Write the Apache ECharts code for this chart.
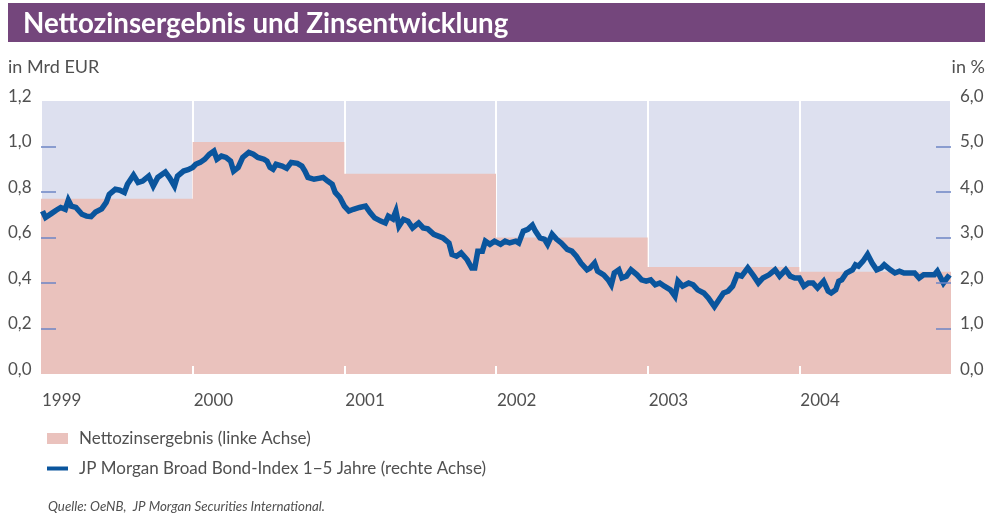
<!DOCTYPE html>
<html>
<head>
<meta charset="utf-8">
<title>Nettozinsergebnis und Zinsentwicklung</title>
<script src="https://cdn.jsdelivr.net/npm/echarts@6/dist/echarts.min.js"></script>
<style>
  html, body { margin: 0; padding: 0; background: #fff; }
  #chart { width: 998px; height: 518px; }
</style>
</head>
<body>
<div id="chart"></div>
<script>
// Nettozinsergebnis je Jahr (Mrd EUR, linke Achse)
var jahre = [1999, 2000, 2001, 2002, 2003, 2004];
var jahrLabels = ['1999', '2000', '2001', '2002', '2003', '2004'];
var nettozins = [0.77, 1.02, 0.88, 0.60, 0.47, 0.45];

// JP Morgan Broad Bond-Index 1-5 Jahre (in %, rechte Achse), Zeitpunkt als Dezimaljahr
var bondZeit = [
  1999.01, 1999.03, 1999.07, 1999.10, 1999.13, 1999.16, 1999.18, 1999.20, 1999.23, 1999.27,
  1999.30, 1999.33, 1999.36, 1999.40, 1999.43, 1999.45, 1999.49, 1999.52, 1999.55, 1999.57,
  1999.61, 1999.64, 1999.67, 1999.71, 1999.74, 1999.77, 1999.82, 1999.85, 1999.88, 1999.90,
  1999.94, 1999.97, 2000.00, 2000.02, 2000.05, 2000.08, 2000.11, 2000.14, 2000.16, 2000.19,
  2000.22, 2000.25, 2000.27, 2000.30, 2000.33, 2000.37, 2000.40, 2000.43, 2000.47, 2000.49,
  2000.51, 2000.53, 2000.55, 2000.59, 2000.62, 2000.65, 2000.69, 2000.72, 2000.74, 2000.76,
  2000.80, 2000.83, 2000.86, 2000.89, 2000.92, 2000.94, 2000.97, 2001.00, 2001.03, 2001.06,
  2001.10, 2001.14, 2001.17, 2001.20, 2001.24, 2001.27, 2001.29, 2001.32, 2001.34, 2001.36,
  2001.39, 2001.42, 2001.45, 2001.49, 2001.52, 2001.55, 2001.59, 2001.62, 2001.65, 2001.69,
  2001.71, 2001.74, 2001.77, 2001.81, 2001.84, 2001.86, 2001.88, 2001.91, 2001.93, 2001.96,
  2001.99, 2002.03, 2002.06, 2002.09, 2002.13, 2002.15, 2002.18, 2002.21, 2002.24, 2002.26,
  2002.29, 2002.32, 2002.34, 2002.37, 2002.40, 2002.43, 2002.47, 2002.50, 2002.53, 2002.56,
  2002.60, 2002.62, 2002.65, 2002.67, 2002.71, 2002.74, 2002.76, 2002.78, 2002.81, 2002.83,
  2002.86, 2002.89, 2002.93, 2002.96, 2002.99, 2003.02, 2003.05, 2003.08, 2003.11, 2003.15,
  2003.18, 2003.20, 2003.23, 2003.27, 2003.30, 2003.33, 2003.37, 2003.40, 2003.44, 2003.47,
  2003.50, 2003.53, 2003.56, 2003.59, 2003.62, 2003.66, 2003.70, 2003.73, 2003.76, 2003.80,
  2003.84, 2003.87, 2003.91, 2003.94, 2003.97, 2004.00, 2004.03, 2004.06, 2004.09, 2004.12,
  2004.16, 2004.19, 2004.21, 2004.24, 2004.26, 2004.28, 2004.31, 2004.35, 2004.37, 2004.39,
  2004.42, 2004.45, 2004.48, 2004.51, 2004.54, 2004.56, 2004.60, 2004.63, 2004.66, 2004.69,
  2004.73, 2004.76, 2004.79, 2004.82, 2004.85, 2004.89, 2004.91, 2004.95, 2004.99
];
var bondWert = [
  3.58, 3.44, 3.53, 3.60, 3.66, 3.62, 3.82, 3.69, 3.66, 3.51,
  3.47, 3.46, 3.56, 3.63, 3.77, 3.95, 4.06, 4.04, 3.99, 4.17,
  4.37, 4.21, 4.24, 4.35, 4.13, 4.32, 4.44, 4.30, 4.13, 4.35,
  4.46, 4.49, 4.54, 4.61, 4.65, 4.72, 4.83, 4.90, 4.72, 4.79,
  4.76, 4.68, 4.46, 4.54, 4.76, 4.87, 4.83, 4.76, 4.72, 4.68,
  4.54, 4.50, 4.61, 4.57, 4.52, 4.65, 4.63, 4.57, 4.46, 4.32,
  4.28, 4.30, 4.32, 4.24, 4.17, 3.99, 3.88, 3.69, 3.58, 3.62,
  3.66, 3.69, 3.55, 3.43, 3.36, 3.32, 3.47, 3.41, 3.58, 3.25,
  3.40, 3.36, 3.21, 3.32, 3.21, 3.19, 3.07, 3.03, 2.99, 2.88,
  2.63, 2.59, 2.66, 2.51, 2.33, 2.33, 2.70, 2.70, 2.92, 2.85,
  2.92, 2.85, 2.92, 2.88, 2.92, 2.88, 3.14, 3.18, 3.27, 3.14,
  2.99, 2.96, 2.85, 3.07, 2.96, 2.88, 2.74, 2.70, 2.59, 2.44,
  2.29, 2.33, 2.44, 2.26, 2.18, 2.07, 1.96, 2.22, 2.29, 2.11,
  2.15, 2.29, 2.18, 2.07, 2.04, 2.07, 1.96, 2.00, 1.93, 1.85,
  1.71, 2.04, 1.93, 2.00, 1.96, 1.85, 1.78, 1.67, 1.48, 1.63,
  1.78, 1.82, 1.93, 2.18, 2.15, 2.33, 2.15, 2.00, 2.11, 2.18,
  2.29, 2.15, 2.29, 2.15, 2.11, 2.11, 1.93, 2.00, 2.00, 1.89,
  2.04, 1.82, 1.78, 1.85, 2.04, 2.07, 2.22, 2.29, 2.40, 2.37,
  2.48, 2.63, 2.44, 2.29, 2.33, 2.40, 2.29, 2.22, 2.26, 2.22,
  2.22, 2.22, 2.11, 2.18, 2.18, 2.18, 2.26, 2.00, 2.18
];

var linksTicks = [0.2, 0.4, 0.6, 0.8, 1.0];
var rechtsTicks = [1, 2, 3, 4, 5];
var jahrTicks = [2000, 2001, 2002, 2003, 2004];

var fontName = 'Lato, "Open Sans", sans-serif';
var textGrau = '#505050';

// Stufen fuer das Nettozinsergebnis: jeder Wert gilt ein ganzes Jahr
var stufen = jahre.map(function (j, i) { return [j, nettozins[i]]; });
stufen.push([jahre[jahre.length - 1] + 1, nettozins[nettozins.length - 1]]);

var bondDaten = bondZeit.map(function (t, i) { return [t, bondWert[i]]; });

function komma(v) {
  return v.toFixed(1).replace('.', ',');
}

var chart = echarts.init(document.getElementById('chart'));

var option = {
  animation: false,
  textStyle: { fontFamily: fontName },
  title: {
    text: 'Nettozinsergebnis und Zinsentwicklung',
    left: 18,
    top: 5,
    textStyle: { color: '#fff', fontSize: 27.7, fontWeight: 'bold', fontFamily: fontName }
  },
  graphic: [
    {
      type: 'rect', left: 8, top: 3, z: -1,
      shape: { width: 977, height: 39 },
      style: { fill: '#74467c' }
    },
    {
      type: 'text', left: 8, top: 58,
      style: { text: 'in Mrd EUR', fill: textGrau, font: '18px ' + fontName }
    },
    {
      type: 'text', right: 13, top: 58,
      style: { text: 'in %', fill: textGrau, font: '18px ' + fontName }
    },
    {
      type: 'text', left: 48, top: 500,
      style: { text: 'Quelle: OeNB,  JP Morgan Securities International.', fill: textGrau, font: 'italic 13.3px ' + fontName }
    }
  ],
  legend: {
    orient: 'vertical',
    left: 47,
    top: 430,
    padding: 0,
    itemWidth: 21,
    itemHeight: 11,
    itemGap: 13,
    textStyle: { color: textGrau, fontSize: 17, fontFamily: fontName, padding: [0, 0, 0, 6] },
    data: [
      { name: 'Nettozinsergebnis (linke Achse)', icon: 'rect' },
      { name: 'JP Morgan Broad Bond-Index 1\u22125 Jahre (rechte Achse)', icon: 'path://M0 0H21V4H0Z' }
    ]
  },
  grid: {
    left: 41, right: 47, top: 101, bottom: 144,
    show: true, backgroundColor: '#dde0ef', borderWidth: 0,
    outerBoundsMode: 'none'
  },
  xAxis: [
    {
      type: 'value', position: 'bottom', min: 1999, max: 2005, interval: 1,
      axisLine: { show: false },
      axisTick: { show: false },
      axisLabel: { show: false },
      splitLine: { show: true, lineStyle: { color: '#ffffff', width: 2 } }
    },
    {
      type: 'value', position: 'bottom', min: 1999, max: 2005, interval: 1, z: 5,
      axisLine: { show: false },
      axisTick: {
        show: true, inside: true, length: 8,
        customValues: jahrTicks,
        lineStyle: { color: '#ffffff', width: 2 }
      },
      axisLabel: {
        margin: 18, align: 'left', padding: [0, 0, 0, 1],
        color: textGrau, fontSize: 17, fontFamily: fontName,
        showMaxLabel: false,
        formatter: function (v) { return jahrLabels[jahre.indexOf(v)] || ''; }
      },
      splitLine: { show: false }
    }
  ],
  yAxis: [
    {
      type: 'value', min: 0, max: 1.2, interval: 0.2, z: 5,
      axisLine: { show: false },
      axisTick: {
        show: true, inside: true, length: 15, customValues: linksTicks,
        lineStyle: { color: '#6d85c5', width: 1.5 }
      },
      axisLabel: {
        margin: 33, align: 'left', verticalAlign: 'bottom', lineHeight: 9,
        color: textGrau, fontSize: 17, fontFamily: fontName,
        formatter: komma
      },
      splitLine: { show: false }
    },
    {
      type: 'value', min: 0, max: 6, interval: 1, z: 5,
      axisLine: { show: false },
      axisTick: {
        show: true, inside: true, length: 15, customValues: rechtsTicks,
        lineStyle: { color: '#6d85c5', width: 1.5 }
      },
      axisLabel: {
        margin: 9, align: 'left', verticalAlign: 'bottom', lineHeight: 9,
        color: textGrau, fontSize: 17, fontFamily: fontName,
        formatter: komma
      },
      splitLine: { show: false }
    }
  ],
  series: [
    {
      name: 'Nettozinsergebnis (linke Achse)',
      type: 'line',
      xAxisIndex: 0, yAxisIndex: 0,
      step: 'end',
      symbol: 'none',
      data: stufen,
      itemStyle: { color: '#eac2bd' },
      lineStyle: { width: 0, color: '#eac2bd' },
      areaStyle: { color: '#eac2bd', opacity: 1 }
    },
    {
      name: 'JP Morgan Broad Bond-Index 1\u22125 Jahre (rechte Achse)',
      type: 'line',
      xAxisIndex: 0, yAxisIndex: 1,
      symbol: 'none',
      data: bondDaten,
      itemStyle: { color: '#0a559d' },
      lineStyle: { width: 5.5, color: '#0a559d', join: 'miter' }
    }
  ]
};

chart.setOption(option);
</script>
</body>
</html>
